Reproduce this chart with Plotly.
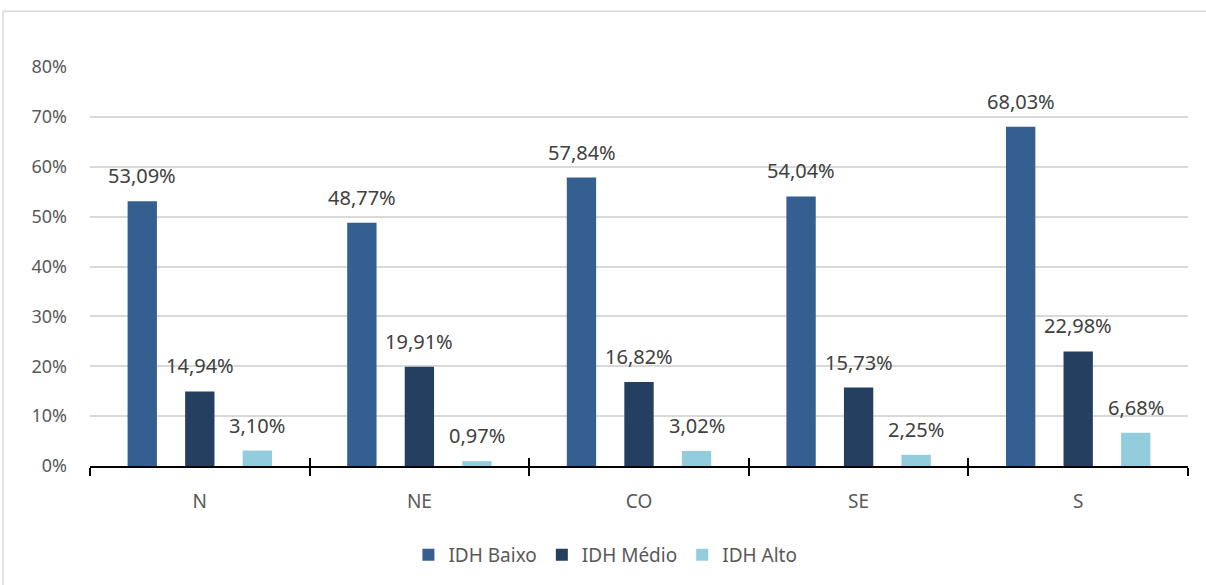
import plotly.graph_objects as go

regioes = ["N", "NE", "CO", "SE", "S"]
idh_baixo = [53.09, 48.77, 57.84, 54.04, 68.03]
idh_medio = [14.94, 19.91, 16.82, 15.73, 22.98]
idh_alto = [3.10, 0.97, 3.02, 2.25, 6.68]
series = [
    ("IDH Baixo", idh_baixo, "#365F91"),
    ("IDH Médio", idh_medio, "#243F60"),
    ("IDH Alto", idh_alto, "#93CDDD"),
]
y_ticks = [0, 10, 20, 30, 40, 50, 60, 70, 80]

FONT = "Noto Sans"

def fmt(v):
    return f"{v:.2f}".replace(".", ",") + "%"

fig = go.Figure()
for name, vals, color in series:
    fig.add_trace(go.Bar(
        name=name, x=regioes, y=[v / 100 for v in vals],
        marker=dict(color=color, line=dict(width=0)),
        showlegend=True,
    ))

# value labels above each bar
offsets = [-57.5, 0, 57.5]
for (name, vals, color), dx in zip(series, offsets):
    for cat, v in zip(regioes, vals):
        fig.add_annotation(
            x=cat, y=v / 100, xref="x", yref="y", text=fmt(v),
            showarrow=False, xshift=dx, yshift=10, yanchor="bottom",
            font=dict(family=FONT, size=20, color="#404040"),
        )

# upper half of the category boundary ticks
fig.add_trace(go.Bar(x=regioes, y=[None] * 5, xaxis="x2", showlegend=False,
                     hoverinfo="skip"))

fig.update_layout(
    width=1206, height=585,
    margin=dict(l=90, r=18, t=67, b=118),
    paper_bgcolor="white", plot_bgcolor="white",
    barmode="group", bargap=0.214, bargroupgap=0.49,
    font=dict(family=FONT, color="#595959", size=19),
    legend=dict(orientation="h", x=0.29, xanchor="left", y=-0.22,
                yanchor="middle", font=dict(size=19, color="#595959"),
                itemwidth=30, traceorder="normal"),
    xaxis=dict(
        type="category", showgrid=False, showline=True, linecolor="black",
        linewidth=2, ticks="outside", tickson="boundaries", ticklen=8,
        tickwidth=2, tickcolor="black", ticklabelstandoff=17,
        tickfont=dict(size=19, color="#595959"), zeroline=False,
    ),
    xaxis2=dict(
        type="category", overlaying="x", matches="x", side="bottom",
        showgrid=False, showline=False, ticks="inside", tickson="boundaries",
        ticklen=8, tickwidth=2, tickcolor="black", showticklabels=False,
        anchor="y",
    ),
    yaxis=dict(
        range=[0, 0.8], tickvals=[t / 100 for t in y_ticks],
        ticktext=[f"{t}%" for t in y_ticks], showgrid=True,
        gridcolor="#D9D9D9", gridwidth=1.5, zeroline=False, showline=False,
        ticks="", ticklabelstandoff=22,
        tickfont=dict(size=18, color="#595959"),
    ),
    shapes=[dict(type="rect", xref="paper", yref="paper",
                 x0=-0.0792, x1=1.05, y0=-0.4, y1=1.14,
                 line=dict(color="#D9D9D9", width=1.5), layer="below")],
)

fig.write_html("out.html")
